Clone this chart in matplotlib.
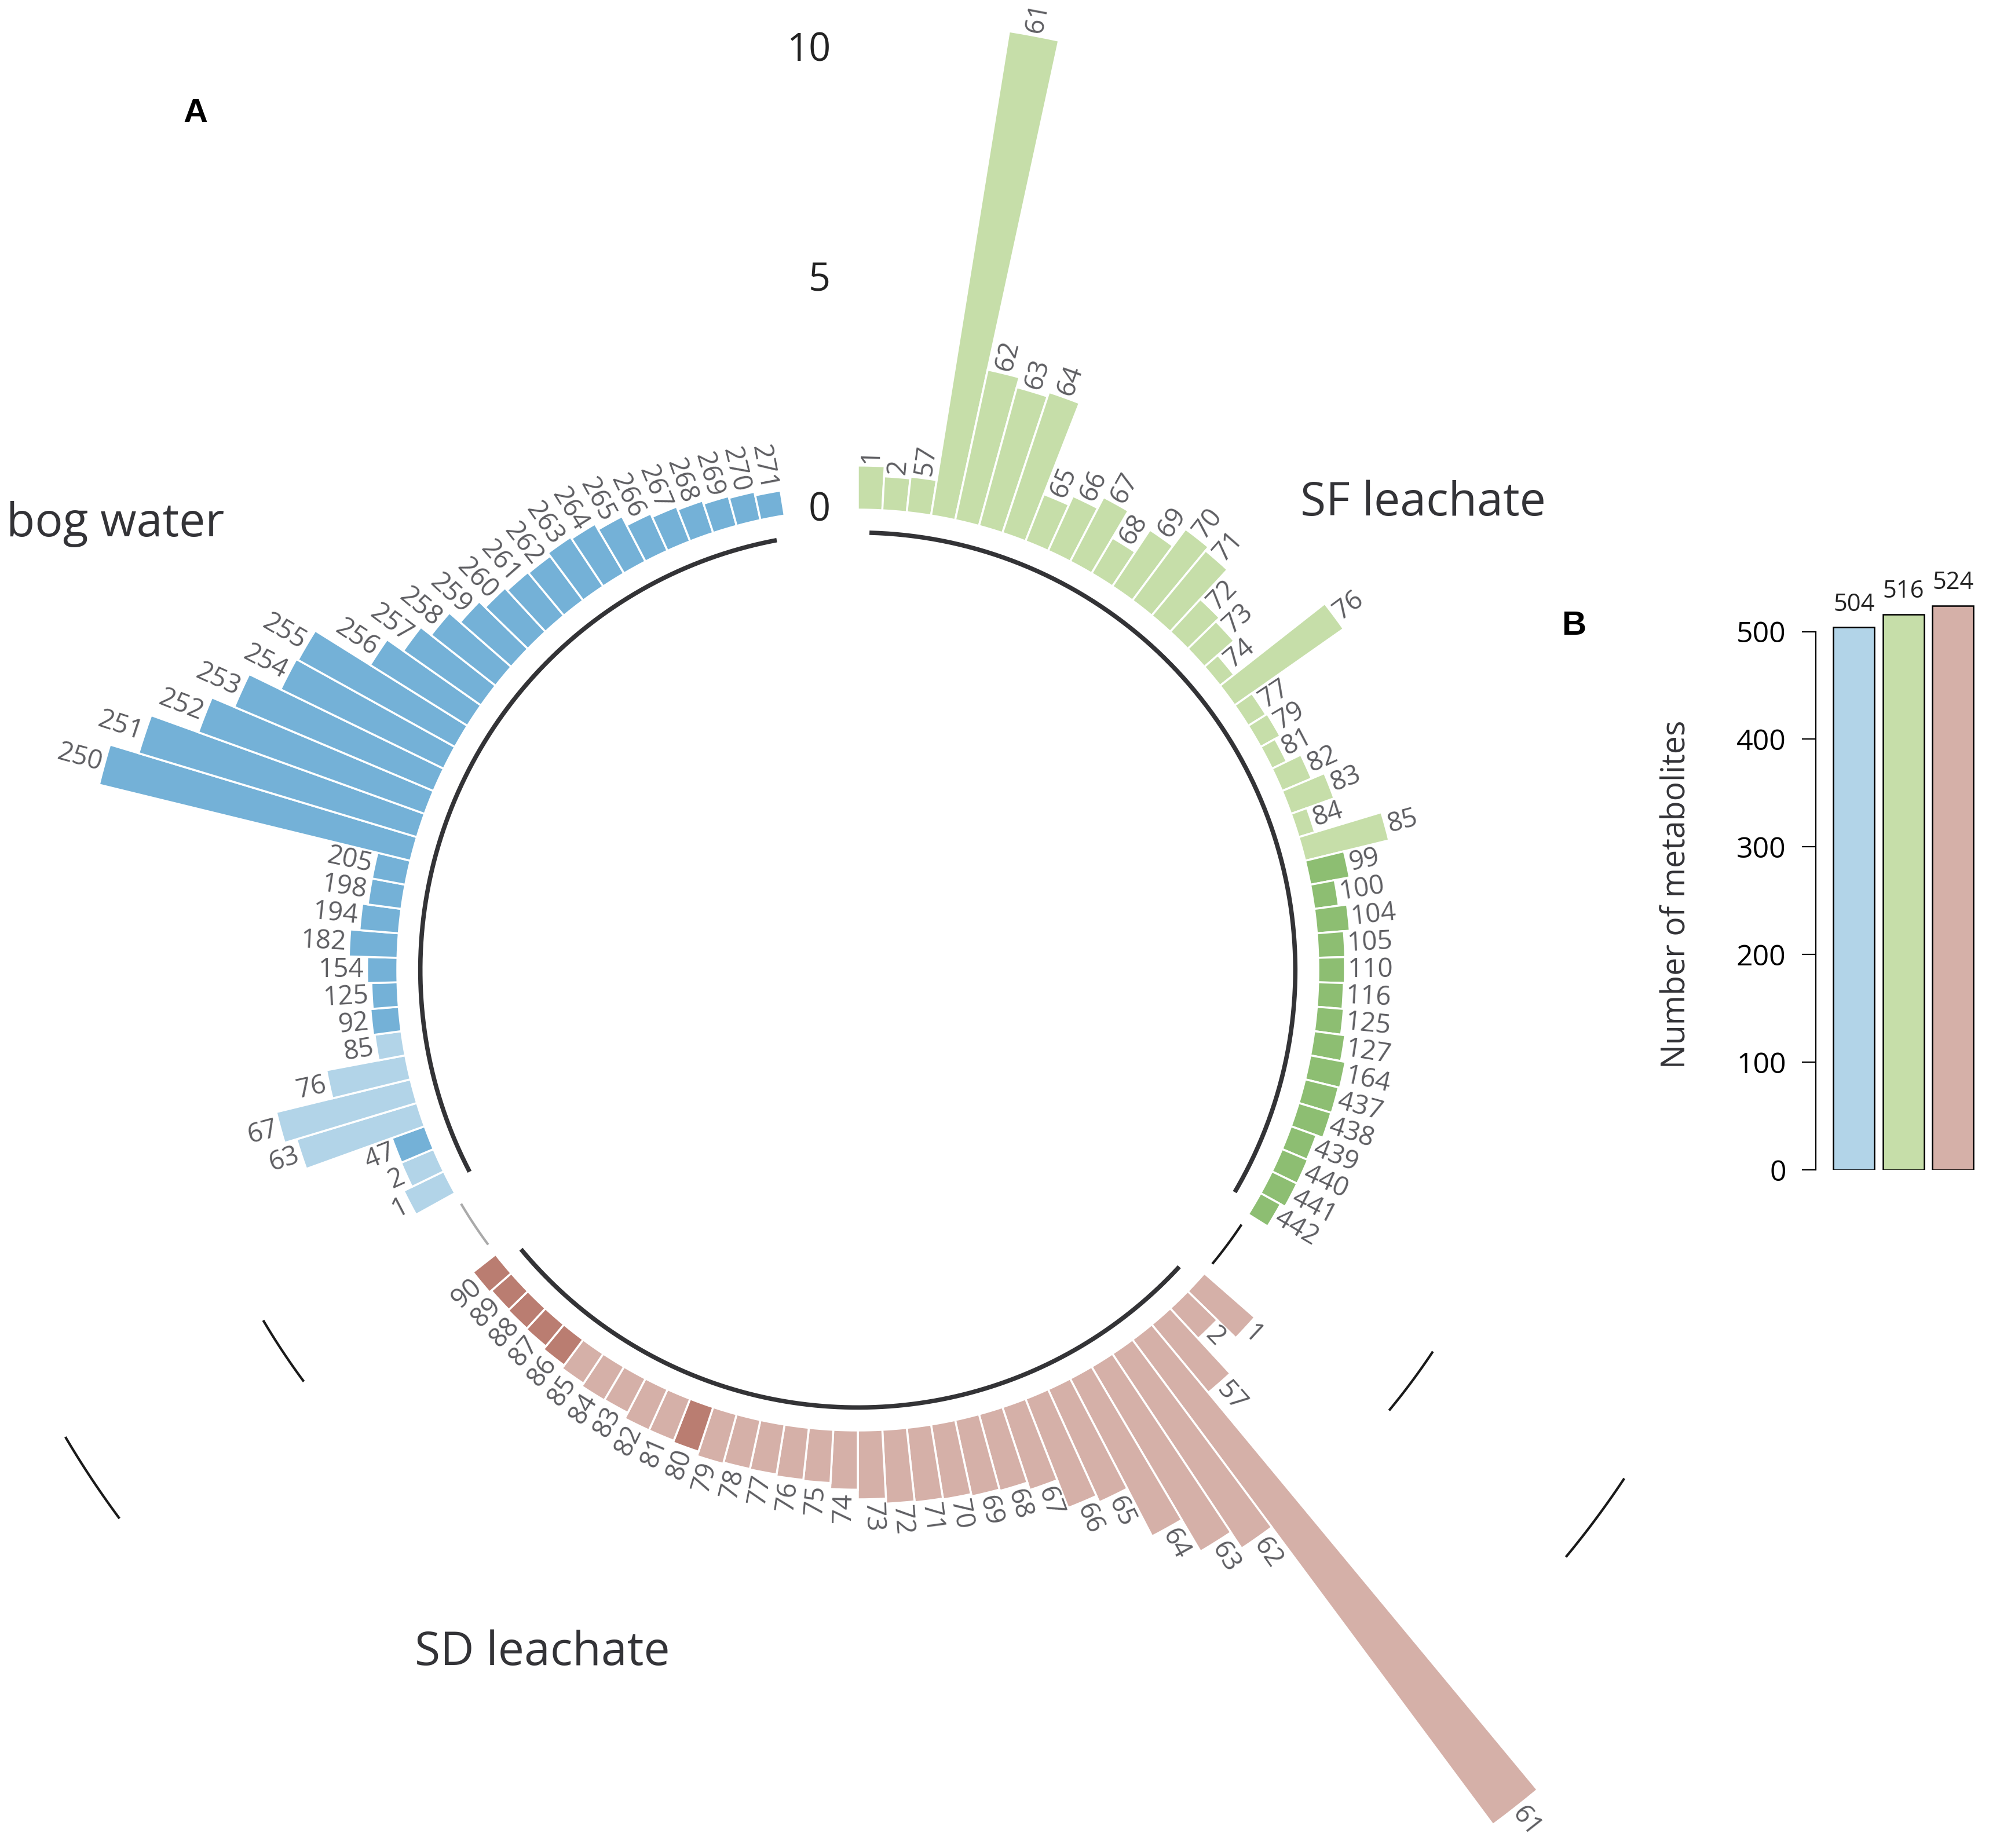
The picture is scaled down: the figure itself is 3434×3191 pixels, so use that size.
import numpy as np
import matplotlib.pyplot as plt

plt.rcParams['font.family'] = ['Open Sans', 'DejaVu Sans']

# ---- panel A: one bar per metabolite, three sample groups ----
sf_ids = [1, 2, 57, 61, 62, 63, 64, 65, 66, 67, 68, 69, 70, 71, 72, 73, 74, 76, 77, 79, 81, 82, 83, 84, 85,
          99, 100, 104, 105, 110, 116, 125, 127, 164, 437, 438, 439, 440, 441, 442]
sf_vals = [0.96, 0.74, 0.78, 10.68, 3.35, 3.13, 3.23, 1.10, 1.31, 1.58, 0.90, 1.48, 1.94, 1.84, 0.97, 0.86,
           0.39, 2.90, 0.46, 0.49, 0.36, 0.70, 1.00, 0.37, 1.88,
           0.87, 0.54, 0.72, 0.59, 0.58, 0.56, 0.59, 0.68, 0.78, 0.75, 0.74, 0.59, 0.61, 0.61, 0.50]
sf_dark = [0] * 25 + [1] * 15

sd_ids = [1, 2, 57, 61, 62, 63, 64, 65, 66, 67, 68, 69, 70, 71, 72, 73, 74, 75, 76, 77, 78, 79, 80,
          81, 82, 83, 84, 85, 86, 87, 88, 89, 90]
sd_vals = [1.46, 0.90, 1.93, 13.16, 5.09, 4.67, 3.87, 2.70, 2.55, 1.90, 1.73, 1.70, 1.65, 1.63, 1.61,
           1.50, 1.29, 1.16, 1.14, 1.10, 1.09, 1.12, 1.02, 0.98, 0.98, 0.84, 0.85, 0.78, 0.70, 0.62,
           0.60, 0.58, 0.63]
sd_dark = [0] * 22 + [1] + [0] * 5 + [1] * 5

bog_ids = [1, 2, 47, 63, 67, 76, 85, 92, 125, 154, 182, 194, 198, 205,
           250, 251, 252, 253, 254, 255, 256, 257, 258, 259, 260, 261, 262, 263, 264, 265, 266, 267,
           268, 269, 270, 271]
bog_vals = [0.97, 0.77, 0.76, 2.74, 3.01, 1.75, 0.59, 0.62, 0.57, 0.66, 1.06, 0.86, 0.74, 0.74,
            6.98, 6.33, 5.24, 4.71, 3.95, 3.91, 2.50, 2.07, 1.79, 1.48, 1.30, 1.23, 1.21, 1.29, 1.25,
            1.11, 0.89, 0.81, 0.74, 0.67, 0.63, 0.55]
bog_dark = [0, 0, 1, 0, 0, 0, 0] + [1] * 29

scale_ticks = [0, 5, 10]

# ---- panel B ----
b_names = ['bog water', 'SF leachate', 'SD leachate']
b_counts = [504, 516, 524]
b_ticks = [0, 100, 200, 300, 400, 500]

# colours (light, dark)
sf_cols = ('#c6dea9', '#8dbe72')
sd_cols = ('#d5b0a8', '#ba7d71')
bog_cols = ('#b2d4e8', '#74b1d7')
b_cols = ['#b2d4e8', '#c6dea9', '#d5b0a8']

W, H = 3434, 3191
fig = plt.figure(figsize=(W / 100, H / 100), dpi=100)

# polar axes geometry in pixels
cx, cy = 1481, 1675
unit = 79.3
r_base = 795
rmax = 14.0
rorig = -r_base / unit
R = (rmax - rorig) * unit
ax = fig.add_axes([(cx - R) / W, (H - cy - R) / H, 2 * R / W, 2 * R / H], projection='polar')
ax.set_theta_zero_location('N')
ax.set_theta_direction(-1)
ax.set_rlim(-1.0, rmax)
ax.set_rorigin(rorig)
ax.axis('off')

empty_bar = 3
groups = [(sf_ids, sf_vals, sf_dark, sf_cols),
          (sd_ids, sd_vals, sd_dark, sd_cols),
          (bog_ids, bog_vals, bog_dark, bog_cols)]
n_slots = sum(len(g[0]) + empty_bar for g in groups)
slot = 2 * np.pi / n_slots

pos = 1
spans = []
for ids, vals, dark, cols in groups:
    idx = np.arange(pos, pos + len(ids))
    spans.append((idx[0], idx[-1]))
    theta = (idx - 0.5) * slot
    colors = [cols[d] for d in dark]
    ax.bar(theta, vals, width=slot, bottom=0, color=colors, edgecolor='white', linewidth=2.5)
    for th, v, lab in zip(theta, vals, ids):
        ang = 90 - np.degrees(th)
        ha = 'left'
        if ang < -90:
            ang += 180
            ha = 'right'
        ax.text(th, v + 0.06, str(lab), rotation=ang, rotation_mode='anchor', ha=ha, va='center',
                fontsize=33, color='#5e5e62')
    pos += len(ids) + empty_bar

# dark base arcs under each group
for a, b in spans:
    th = np.linspace((a - 0.5) * slot, (b - 0.5) * slot, 300)
    ax.plot(th, np.full_like(th, -0.5), color='#333336', lw=5.5, solid_capstyle='butt')

# scale segments in the gaps between groups
gap_cols = [['#1a1a1a', '#1a1a1a', '#1a1a1a'], ['#aaaaaa', '#1a1a1a', '#1a1a1a']]
for k in range(1, len(spans)):
    a = spans[k - 1][1] + 1
    b = spans[k][0] - 1
    th = np.linspace((a - 0.5) * slot, (b - 0.5) * slot, 50)
    for r, c in zip(scale_ticks, gap_cols[k - 1]):
        ax.plot(th, np.full_like(th, r), color=c, lw=3, solid_capstyle='butt')

# scale labels in the top gap, right-aligned on a common vertical
for r in scale_ticks:
    rpx = r_base + r * unit
    th_lab = 2 * np.pi - np.arcsin(47 / rpx)
    ax.text(th_lab, r, str(r), ha='right', va='center', fontsize=48, color='#222222')

# group titles and panel letters
fig.text(11 / W, 1 - 905 / H, 'bog water', fontsize=58, color='#333337', ha='left', va='center')
fig.text(2245 / W, 1 - 869 / H, 'SF leachate', fontsize=58, color='#333337', ha='left', va='center')
fig.text(716 / W, 1 - 2854 / H, 'SD leachate', fontsize=58, color='#333337', ha='left', va='center')
fig.text(338 / W, 1 - 196 / H, 'A', fontsize=42, fontweight='bold', family='Liberation Sans',
         ha='center', va='center')
fig.text(2717 / W, 1 - 1081 / H, 'B', fontsize=42, fontweight='bold', family='Liberation Sans',
         ha='center', va='center')

# ---- panel B axes ----
bx0, bx1 = 3135, 3411
by0, by1 = 979, 2020
ax2 = fig.add_axes([bx0 / W, 1 - by1 / H, (bx1 - bx0) / W, (by1 - by0) / H])
ax2.set_facecolor('none')
xpos = [0.7, 1.9, 3.1]
ax2.bar(xpos, b_counts, width=1.0, color=b_cols, edgecolor='black', linewidth=1.8)
for x, v in zip(xpos, b_counts):
    ax2.text(x, v + 10, str(v), ha='center', va='bottom', fontsize=30, color='#222222')
ax2.set_xlim(-0.22, 3.65)
ax2.set_ylim(0, 560)
ax2.set_yticks(b_ticks)
ax2.set_xticks([])
for s in ['top', 'right', 'bottom']:
    ax2.spines[s].set_visible(False)
ax2.spines['left'].set_bounds(0, 500)
ax2.spines['left'].set_linewidth(1.6)
ax2.tick_params(axis='y', length=17, width=1.6, labelsize=36, pad=20)
fig.text(2895 / W, 1 - 1544 / H, 'Number of metabolites', rotation=90, ha='center', va='center',
         fontsize=40, color='#333337')

fig.savefig('out.png', dpi=100)
